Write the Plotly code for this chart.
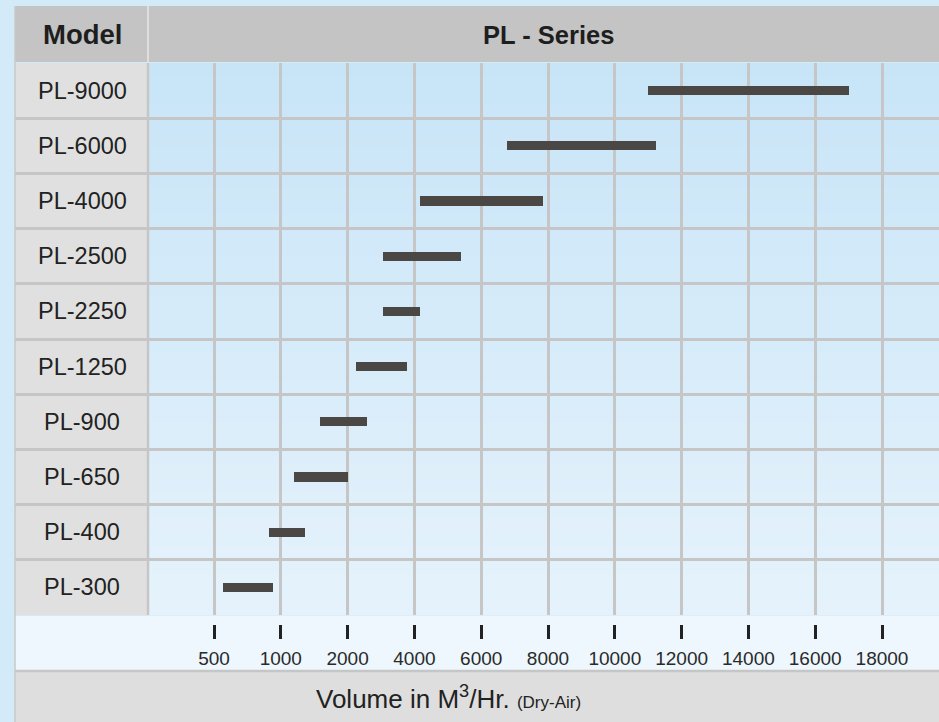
import numpy as np
import plotly.graph_objects as go

# ---------------- data ----------------
models = ["PL-300", "PL-400", "PL-650", "PL-900", "PL-1250",
          "PL-2250", "PL-2500", "PL-4000", "PL-6000", "PL-9000"]
range_min = [570, 910, 1200, 1590, 2250, 3060, 3060, 4170, 6770, 11000]
range_max = [940, 1360, 2000, 2580, 3780, 4170, 5400, 7850, 11230, 17000]
tick_values = [500, 1000, 2000, 4000, 6000, 8000, 10000, 12000, 14000, 16000, 18000]
tick_labels = [str(v) for v in tick_values]
header_model = "Model"
header_series = "PL - Series"
axis_title = "Volume in M<sup>3</sup>/Hr. <span style='font-size:17px'>(Dry-Air)</span>"

# ---------------- geometry helpers ----------------
W, H = 939, 722
FONT = "Liberation Sans, Arial, Helvetica, sans-serif"


def px(x):
    return x / W


def py(y):
    return 1 - y / H


tick_pos = np.arange(len(tick_values), dtype=float)
start_pos = np.interp(range_min, tick_values, tick_pos)
end_pos = np.interp(range_max, tick_values, tick_pos)
rows = np.arange(len(models))

fig = go.Figure()
fig.add_trace(go.Bar(
    orientation="h",
    y=rows,
    x=end_pos - start_pos,
    base=start_pos,
    width=0.165,
    marker=dict(color="#4a4745", line=dict(width=0)),
    hoverinfo="skip",
    showlegend=False,
))

spacing = 66.8
x0_px = 15
r0 = -(214 - x0_px) / spacing
r1 = r0 + (W - x0_px) / spacing

shapes = []
# header band
shapes.append(dict(type="rect", xref="paper", yref="paper", x0=px(15), x1=1,
                   y0=py(62), y1=py(6), fillcolor="#c4c4c4", line=dict(width=0), layer="below"))
shapes.append(dict(type="line", xref="paper", yref="paper", x0=px(148), x1=px(148),
                   y0=py(62), y1=py(6), line=dict(color="#dedede", width=2), layer="above"))
# model column
shapes.append(dict(type="rect", xref="paper", yref="paper", x0=px(15), x1=px(148),
                   y0=py(615), y1=py(63), fillcolor="#e0e0e0", line=dict(width=0), layer="below"))
# gradient background in plot cells
c_top = np.array([0xc8, 0xe5, 0xf8])
c_bot = np.array([0xe6, 0xf3, 0xfc])
n = 40
for i in range(n):
    t = (i + 0.5) / n
    c = (c_top * (1 - t) + c_bot * t).astype(int)
    ya = 63 + (615 - 63) * i / n
    yb = 63 + (615 - 63) * (i + 1) / n + 0.6
    shapes.append(dict(type="rect", xref="paper", yref="paper", x0=px(148), x1=1,
                       y0=py(yb), y1=py(ya),
                       fillcolor="rgb(%d,%d,%d)" % tuple(c), line=dict(width=0), layer="below"))
# divider between model column and cells
shapes.append(dict(type="line", xref="paper", yref="paper", x0=px(148), x1=px(148),
                   y0=py(615), y1=py(63), line=dict(color="#c6c6c6", width=2.5), layer="above"))
# tick row
shapes.append(dict(type="rect", xref="paper", yref="paper", x0=px(15), x1=1,
                   y0=py(670), y1=py(616), fillcolor="#edf7fd", line=dict(width=0), layer="below"))
shapes.append(dict(type="line", xref="paper", yref="paper", x0=px(15), x1=1,
                   y0=py(671), y1=py(671), line=dict(color="#c6c6c6", width=2.5), layer="above"))
# bottom title row
shapes.append(dict(type="rect", xref="paper", yref="paper", x0=px(15), x1=1,
                   y0=0, y1=py(672), fillcolor="#dedede", line=dict(width=0), layer="below"))
# left table border
shapes.append(dict(type="line", xref="paper", yref="paper", x0=px(15), x1=px(15),
                   y0=0, y1=py(6), line=dict(color="#c8c8c8", width=1.5), layer="above"))

annotations = []
for i, m in enumerate(models):
    annotations.append(dict(x=px(82), y=i, xref="paper", yref="y", text=m, showarrow=False,
                            xanchor="center", yanchor="middle",
                            font=dict(family=FONT, size=23.5, color="#222222")))
annotations.append(dict(x=px(82), y=py(35), xref="paper", yref="paper", text="<b>%s</b>" % header_model,
                        showarrow=False, xanchor="center", yanchor="middle",
                        font=dict(family=FONT, size=27.5, color="#1e1e1e")))
annotations.append(dict(x=px(548), y=py(35), xref="paper", yref="paper", text="<b>%s</b>" % header_series,
                        showarrow=False, xanchor="center", yanchor="middle",
                        font=dict(family=FONT, size=25.5, color="#1e1e1e")))
annotations.append(dict(x=px(448), y=py(697), xref="paper", yref="paper", text=axis_title,
                        showarrow=False, xanchor="center", yanchor="middle",
                        font=dict(family=FONT, size=26, color="#222222")))

fig.update_layout(
    width=W, height=H, autosize=False,
    margin=dict(l=0, r=0, t=0, b=0, pad=0),
    paper_bgcolor="#d3ebf9",
    plot_bgcolor="rgba(0,0,0,0)",
    shapes=shapes,
    annotations=annotations,
    bargap=0,
    xaxis=dict(
        domain=[px(15), 1], range=[r0, r1], anchor="free", position=py(624),
        tickmode="array", tickvals=tick_pos, ticktext=tick_labels,
        ticks="outside", ticklen=14, tickwidth=3, tickcolor="#222222",
        showgrid=True, gridcolor="#c6c6c6", gridwidth=2.5,
        zeroline=False, showline=False, fixedrange=True,
        tickfont=dict(family=FONT, size=19, color="#2a2a2a"),
        ticklabelstandoff=3,
    ),
    yaxis=dict(
        domain=[py(615), py(63)], range=[-0.5, len(models) - 0.5],
        tickmode="array", tickvals=np.arange(-0.5, len(models) + 0.5, 1.0),
        showticklabels=False, ticks="",
        showgrid=True, gridcolor="#c6c6c6", gridwidth=3,
        zeroline=False, showline=False, fixedrange=True,
    ),
)

fig.write_html(
    "out.html",
    config={"displayModeBar": False},
    post_script="document.body.style.margin='0';document.body.style.overflow='hidden';",
)
